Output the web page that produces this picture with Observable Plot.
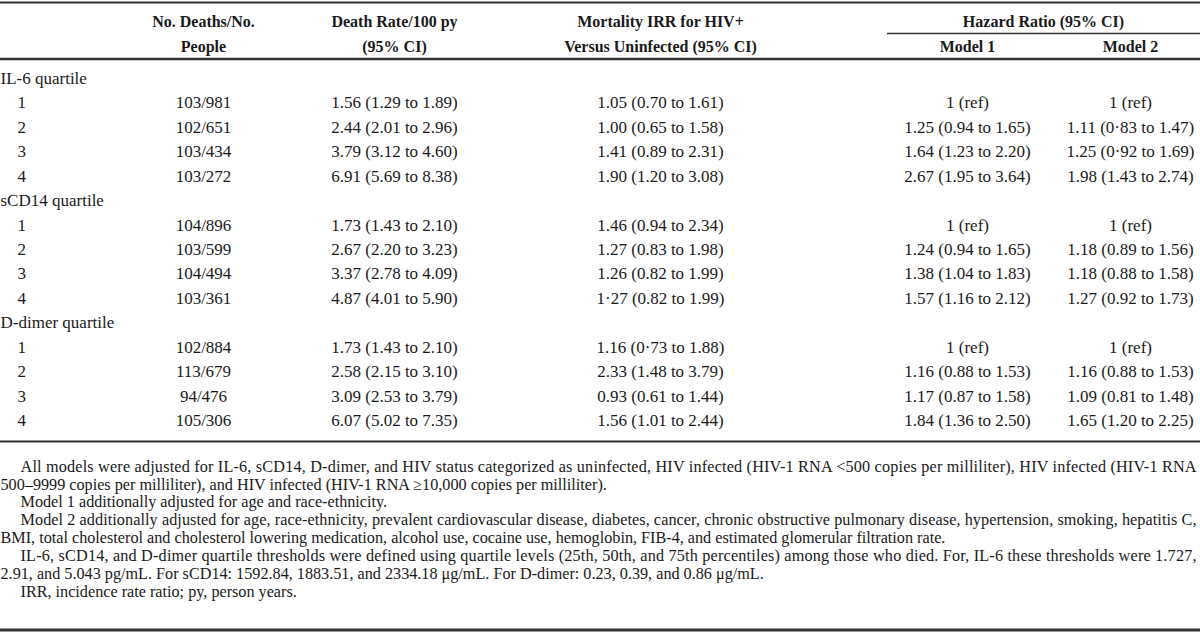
<!DOCTYPE html>
<html>
<head>
<meta charset="utf-8">
<script src="https://cdn.jsdelivr.net/npm/d3@7"></script>
<script src="https://cdn.jsdelivr.net/npm/@observablehq/plot@0.6"></script>
<style>
  html, body { margin: 0; padding: 0; background: #fff; }
  #chart svg { display: block; }
</style>
</head>
<body>
<div id="chart"></div>
<script>
// ---- data ----
const groups = ["IL-6 quartile", "sCD14 quartile", "D-dimer quartile"];
const quartiles = ["1", "2", "3", "4"];
const deaths = ["103/981", "102/651", "103/434", "103/272",
                "104/896", "103/599", "104/494", "103/361",
                "102/884", "113/679", "94/476", "105/306"];
const deathRate = ["1.56 (1.29 to 1.89)", "2.44 (2.01 to 2.96)", "3.79 (3.12 to 4.60)", "6.91 (5.69 to 8.38)",
                   "1.73 (1.43 to 2.10)", "2.67 (2.20 to 3.23)", "3.37 (2.78 to 4.09)", "4.87 (4.01 to 5.90)",
                   "1.73 (1.43 to 2.10)", "2.58 (2.15 to 3.10)", "3.09 (2.53 to 3.79)", "6.07 (5.02 to 7.35)"];
const irr = ["1.05 (0.70 to 1.61)", "1.00 (0.65 to 1.58)", "1.41 (0.89 to 2.31)", "1.90 (1.20 to 3.08)",
             "1.46 (0.94 to 2.34)", "1.27 (0.83 to 1.98)", "1.26 (0.82 to 1.99)", "1·27 (0.82 to 1.99)",
             "1.16 (0·73 to 1.88)", "2.33 (1.48 to 3.79)", "0.93 (0.61 to 1.44)", "1.56 (1.01 to 2.44)"];
const model1 = ["1 (ref)", "1.25 (0.94 to 1.65)", "1.64 (1.23 to 2.20)", "2.67 (1.95 to 3.64)",
                "1 (ref)", "1.24 (0.94 to 1.65)", "1.38 (1.04 to 1.83)", "1.57 (1.16 to 2.12)",
                "1 (ref)", "1.16 (0.88 to 1.53)", "1.17 (0.87 to 1.58)", "1.84 (1.36 to 2.50)"];
const model2 = ["1 (ref)", "1.11 (0·83 to 1.47)", "1.25 (0·92 to 1.69)", "1.98 (1.43 to 2.74)",
                "1 (ref)", "1.18 (0.89 to 1.56)", "1.18 (0.88 to 1.58)", "1.27 (0.92 to 1.73)",
                "1 (ref)", "1.16 (0.88 to 1.53)", "1.09 (0.81 to 1.48)", "1.65 (1.20 to 2.25)"];
const headerTop = ["No. Deaths/No.", "Death Rate/100 py", "Mortality IRR for HIV+"];
const headerBottom = ["People", "(95% CI)", "Versus Uninfected (95% CI)"];
const spanHeader = "Hazard Ratio (95% CI)";
const modelHeaders = ["Model 1", "Model 2"];
const footnotes = [
  "All models were adjusted for IL-6, sCD14, D-dimer, and HIV status categorized as uninfected, HIV infected (HIV-1 RNA <500 copies per milliliter), HIV infected (HIV-1 RNA",
  "500–9999 copies per milliliter), and HIV infected (HIV-1 RNA ≥10,000 copies per milliliter).",
  "Model 1 additionally adjusted for age and race-ethnicity.",
  "Model 2 additionally adjusted for age, race-ethnicity, prevalent cardiovascular disease, diabetes, cancer, chronic obstructive pulmonary disease, hypertension, smoking, hepatitis C,",
  "BMI, total cholesterol and cholesterol lowering medication, alcohol use, cocaine use, hemoglobin, FIB-4, and estimated glomerular filtration rate.",
  "IL-6, sCD14, and D-dimer quartile thresholds were defined using quartile levels (25th, 50th, and 75th percentiles) among those who died. For, IL-6 these thresholds were 1.727,",
  "2.91, and 5.043 pg/mL. For sCD14: 1592.84, 1883.51, and 2334.18 μg/mL. For D-dimer: 0.23, 0.39, and 0.86 μg/mL.",
  "IRR, incidence rate ratio; py, person years."
];
const footIndent = [true, false, true, true, false, true, false, true];
const footJustified = [true, false, false, true, false, true, false, false];

// ---- layout ----
const W = 1200, H = 632;
const serif = "'Liberation Serif', 'Times New Roman', serif";
const ink = "#1a1a1a";
const colX = {deaths: 203, rate: 394, irr: 660, m1: 967, m2: 1130};
const spanX = 1043;
const labelX = 0, quartX = 17;
const bodyTop = 78, rowStep = 24.43;
const footTop = 466, footStep = 17.9;
const footIndentPx = 20, footRight = 1196;

// build rows
const body = [];
let r = 0;
groups.forEach((g, gi) => {
  body.push({row: r++, kind: "group", label: g});
  quartiles.forEach((q, qi) => {
    const k = gi * 4 + qi;
    body.push({row: r++, kind: "q", label: q, deaths: deaths[k], rate: deathRate[k], irr: irr[k], m1: model1[k], m2: model2[k]});
  });
});
const yRow = d => bodyTop + d.row * rowStep;
const cells = [];
for (const d of body) {
  if (d.kind === "q") {
    for (const c of ["deaths", "rate", "irr", "m1", "m2"]) cells.push({x: colX[c], y: yRow(d), text: d[c]});
  }
}
const labels = body.map(d => ({x: d.kind === "group" ? labelX : quartX, y: yRow(d), text: d.label}));

const topX = [colX.deaths, colX.rate, colX.irr];
const headA = headerTop.map((t, i) => ({x: topX[i], y: 21, text: t}))
  .concat([{x: spanX, y: 21, text: spanHeader}]);
const headB = headerBottom.map((t, i) => ({x: topX[i], y: 46, text: t}))
  .concat(modelHeaders.map((t, i) => ({x: [colX.m1, colX.m2][i], y: 46, text: t})));

const foot = footnotes.map((t, i) => ({x: footIndent[i] ? footIndentPx : 0, y: footTop + i * footStep, text: t, just: footJustified[i]}));

const rules = [
  {y: 2, x1: 0, x2: W, w: 2.2},
  {y: 33, x1: 887, x2: W, w: 1.4},
  {y: 58.5, x1: 0, x2: W, w: 2.4},
  {y: 441, x1: 0, x2: W, w: 2.2},
  {y: 629.5, x1: 0, x2: W, w: 3}
];

const chart = Plot.plot({
  width: W,
  height: H,
  margin: 0,
  x: {type: "identity", axis: null},
  y: {type: "identity", axis: null},
  style: {background: "#fff"},
  marks: [
    Plot.ruleY(rules, {y: "y", x1: "x1", x2: "x2", stroke: "#333", strokeWidth: "w"}),
    Plot.text(headA, {x: "x", y: "y", text: "text", textAnchor: "middle", fontFamily: serif, fontWeight: "bold", fontSize: 16, fill: ink}),
    Plot.text(headB, {x: "x", y: "y", text: "text", textAnchor: "middle", fontFamily: serif, fontWeight: "bold", fontSize: 16, fill: ink}),
    Plot.text(labels, {x: "x", y: "y", text: "text", textAnchor: "start", fontFamily: serif, fontSize: 17, fill: ink}),
    Plot.text(cells, {x: "x", y: "y", text: "text", textAnchor: "middle", fontFamily: serif, fontSize: 17, fill: ink}),
    Plot.text(foot, {x: "x", y: "y", text: "text", textAnchor: "start", fontFamily: serif, fontSize: 16.2, fill: ink})
  ]
});

// justify the full-width footnote lines
const justifiedSet = new Set(foot.filter(d => d.just).map(d => d.text));
d3.select(chart).selectAll("text").each(function () {
  if (justifiedSet.has(this.textContent)) {
    this.setAttribute("textLength", footRight - footIndentPx);
    this.setAttribute("lengthAdjust", "spacing");
  }
});
document.getElementById("chart").appendChild(chart);
</script>
</body>
</html>
